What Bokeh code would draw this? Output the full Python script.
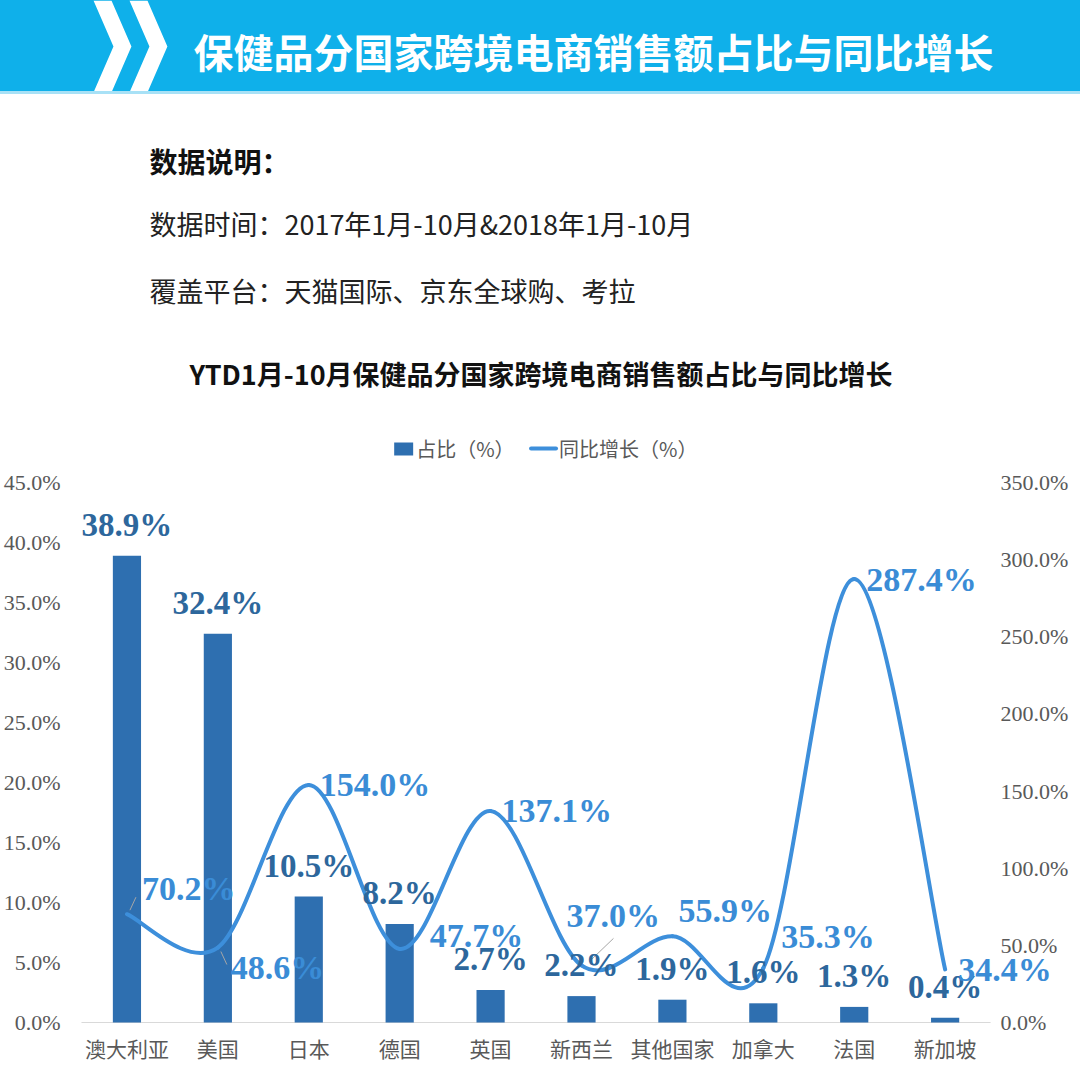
from bokeh.plotting import figure
from bokeh.models import (Range1d, FixedTicker, PrintfTickFormatter,
                          ColumnDataSource, LabelSet)
from bokeh.layouts import column
from bokeh.core.properties import value
from bokeh.embed import file_html
from bokeh.resources import INLINE

# ---------------- data ----------------
countries = ["澳大利亚", "美国", "日本", "德国", "英国", "新西兰", "其他国家", "加拿大", "法国", "新加坡"]
share_pct = [38.9, 32.4, 10.5, 8.2, 2.7, 2.2, 1.9, 1.6, 1.3, 0.4]
growth_pct = [70.2, 48.6, 154.0, 47.7, 137.1, 37.0, 55.9, 35.3, 287.4, 34.4]
left_ticks = [0, 5, 10, 15, 20, 25, 30, 35, 40, 45]
right_ticks = [0, 50, 100, 150, 200, 250, 300, 350]

header_title = "保健品分国家跨境电商销售额占比与同比增长"
note_head = "数据说明："
note_time = "数据时间：2017年1月-10月&2018年1月-10月"
note_platform = "覆盖平台：天猫国际、京东全球购、考拉"
chart_title = "YTD1月-10月保健品分国家跨境电商销售额占比与同比增长"
legend_bar = "占比（%）"
legend_line = "同比增长（%）"

# label placement (screen pixel offsets for growth labels)
growth_dx = [15, 13, 11, 30, 11, -15, 6, 18, 12, 13]
growth_dy = [-26, 20, 0, -13, 0, -50, -26, -32, 0, 0]

# ---------------- styles ----------------
W = 1080
LB = 70            # left border shared by all stacked figures
BANNER = "#0fb0ea"
BAR_C = "#2e6fb0"
BAR_LBL = "#2d679c"
LINE_C = "#3d8fdb"
LINE_LBL = "#3a8cd6"
GRAY = "#595959"
CJK = "Noto Sans CJK SC"
SERIF = "Liberation Serif"


def blank(h, y0, y1, fill="white"):
    f = figure(width=W, height=h, x_range=Range1d(LB, W), y_range=Range1d(y0, y1),
               output_backend="svg", toolbar_location=None,
               min_border_left=LB, min_border_right=0, min_border_top=0, min_border_bottom=0)
    f.axis.visible = False
    f.grid.visible = False
    f.outline_line_color = None
    f.background_fill_color = None
    f.border_fill_color = None
    f.styles = {"background-color": fill}
    return f


# ---------------- header banner ----------------
hdr = blank(91, 91, 0, BANNER)
for x0 in (92, 128):
    w, d = 18, 20
    hdr.patch([x0, x0 + w, x0 + w + d, x0 + w, x0, x0 + d],
              [0, 0, 46, 92, 92, 46], fill_color="white", line_color=None)
hdr.text(x=[192], y=[50], text=[header_title], text_font=value(CJK), text_font_style="bold",
         text_font_size="40px", text_color="white", text_baseline="middle", text_align="left")

band = blank(3, 3, 0, "#a8e1f6")

# ---------------- notes, chart title, legend ----------------
txt = blank(368, 462, 94)
txt.text(x=[148], y=[160], text=[note_head], text_font=value(CJK), text_font_style="bold",
         text_font_size="28px", text_color="#111111", text_baseline="middle")
txt.text(x=[148, 148], y=[223, 290], text=[note_time, note_platform], text_font=value(CJK),
         text_font_size="27px", text_color="#222222", text_baseline="middle")
txt.text(x=[540], y=[373], text=[chart_title], text_font=value(CJK), text_font_style="bold",
         text_font_size="27px", text_color="#111111", text_baseline="middle", text_align="center")
txt.quad(left=393, right=412, top=442, bottom=455, fill_color=BAR_C, line_color=None)
txt.line(x=[530, 555], y=[448, 448], line_color=LINE_C, line_width=4, line_cap="round")
txt.text(x=[415, 558], y=[448, 448], text=[legend_bar, legend_line], text_font=value(CJK),
         text_font_size="20px", text_color=GRAY, text_baseline="middle")

# ---------------- chart ----------------
n = len(countries)
xs = [i + 0.5 for i in range(n)]
PXU = 91.0                       # pixels per category
L_PX = 12.0                      # pixels per 1% (left scale)
R_PX = 540 / 350.0               # pixels per 1% (right scale)
TOP_PAD, BOT_PAD = 20, 10        # frame padding (px) above 45% and below 0

p = figure(width=W, height=615, x_range=Range1d(-10 / PXU, n + 90 / PXU),
           y_range=Range1d(-BOT_PAD / L_PX, 45 + TOP_PAD / L_PX),
           output_backend="svg", toolbar_location=None,
           min_border_left=LB, min_border_right=0, min_border_top=0, min_border_bottom=45)
p.extra_y_ranges = {"right": Range1d(-BOT_PAD / R_PX, 350 + TOP_PAD / R_PX)}
p.grid.visible = False
p.outline_line_color = None
p.background_fill_color = "white"
p.border_fill_color = "white"

# category baseline
p.segment(x0=[0], y0=[0], x1=[n], y1=[0], line_color="#d9d9d9", line_width=1)

p.vbar(x=xs, top=share_pct, bottom=0, width=0.31, fill_color=BAR_C, line_color=None)

# smoothed line (Catmull-Rom -> cubic bezier, through the data points)
P = list(zip(xs, growth_pct))
bx0, by0, bx1, by1, c0x, c0y, c1x, c1y = ([] for _ in range(8))
for i in range(n - 1):
    p0 = P[i - 1] if i > 0 else P[i]
    p1 = P[i]
    p2 = P[i + 1]
    p3 = P[i + 2] if i + 2 < n else P[i + 1]
    bx0.append(p1[0]); by0.append(p1[1]); bx1.append(p2[0]); by1.append(p2[1])
    c0x.append(p1[0] + (p2[0] - p0[0]) / 6); c0y.append(p1[1] + (p2[1] - p0[1]) / 6)
    c1x.append(p2[0] - (p3[0] - p1[0]) / 6); c1y.append(p2[1] - (p3[1] - p1[1]) / 6)
p.bezier(x0=bx0, y0=by0, x1=bx1, y1=by1, cx0=c0x, cy0=c0y, cx1=c1x, cy1=c1y,
         y_range_name="right", line_color=LINE_C, line_width=4, line_cap="round")

# leader lines for a few labels (pixel offsets converted to data units)
lead = {0: (3, -4, 9, -17), 1: (3, 4, 9, 17), 5: (8, -4, 32, -27)}
for i, (ax, ay, bx, by) in lead.items():
    p.segment(x0=[xs[i] + ax / PXU], y0=[growth_pct[i] - ay / R_PX],
              x1=[xs[i] + bx / PXU], y1=[growth_pct[i] - by / R_PX],
              y_range_name="right", line_color="#a6a6a6", line_width=1)

# bottom (category) axis
p.xaxis.ticker = FixedTicker(ticks=xs)
p.xaxis.major_label_overrides = {x: c for x, c in zip(xs, countries)}
p.xaxis.axis_line_color = None
p.xaxis.major_tick_line_color = None
p.xaxis.minor_tick_line_color = None
p.xaxis.major_tick_out = 0
p.xaxis.major_tick_in = 0
p.xaxis.major_label_standoff = 0
p.xaxis.major_label_text_font = CJK
p.xaxis.major_label_text_font_size = "21px"
p.xaxis.major_label_text_color = GRAY

# left axis (share)
p.yaxis.ticker = FixedTicker(ticks=left_ticks)
p.yaxis.formatter = PrintfTickFormatter(format="%.1f%%")
p.yaxis.axis_line_color = None
p.yaxis.major_tick_line_color = None
p.yaxis.minor_tick_line_color = None
p.yaxis.major_label_standoff = 5
p.yaxis.major_label_text_font = SERIF
p.yaxis.major_label_text_font_size = "22px"
p.yaxis.major_label_text_color = GRAY

# right-hand scale (growth) written on the secondary range
p.text(x=[n + 10 / PXU] * len(right_ticks), y=right_ticks,
       text=["%.1f%%" % t for t in right_ticks], y_range_name="right",
       text_font=value(SERIF), text_font_size="22px", text_color=GRAY,
       text_baseline="middle", text_align="left")

# data labels
bar_src = ColumnDataSource(dict(x=xs, y=share_pct, t=["%.1f%%" % v for v in share_pct]))
p.add_layout(LabelSet(x="x", y="y", text="t", source=bar_src, y_offset=31,
                      text_align="center", text_baseline="middle", text_font=SERIF,
                      text_font_style="bold", text_font_size="33px", text_color=BAR_LBL))
g_src = ColumnDataSource(dict(x=xs, y=growth_pct, t=["%.1f%%" % v for v in growth_pct],
                              dx=growth_dx, dy=[-d for d in growth_dy]))
p.add_layout(LabelSet(x="x", y="y", text="t", source=g_src, x_offset="dx", y_offset="dy",
                      y_range_name="right", text_align="left", text_baseline="middle",
                      text_font=SERIF, text_font_style="bold", text_font_size="34px",
                      text_color=LINE_LBL))

page = column(hdr, band, txt, p, spacing=0)
open("out.html", "w").write(file_html(page, INLINE))
